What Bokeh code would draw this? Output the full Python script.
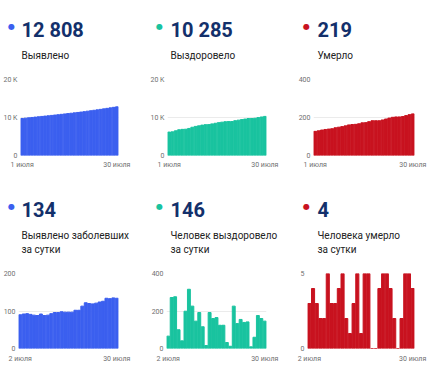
from bokeh.plotting import figure
from bokeh.layouts import column, row
from bokeh.models import Label, FixedTicker, Range1d
from bokeh.embed import file_html
from bokeh.resources import INLINE

# ---------------- data ----------------
days_top = list(range(1, 31))      # 1..30 July
days_bottom = list(range(2, 31))   # 2..30 July

detected_total = [9737, 9827, 9919, 10012, 10103, 10192, 10280, 10372, 10460, 10549,
                  10642, 10738, 10834, 10932, 11029, 11126, 11223, 11325, 11427, 11540,
                  11662, 11782, 11901, 12022, 12146, 12272, 12406, 12539, 12674, 12808]
recovered_total = [6164, 6230, 6502, 6778, 6878, 6919, 7118, 7434, 7660, 7806,
                   7998, 8114, 8130, 8322, 8482, 8647, 8771, 8895, 8927, 8939,
                   9165, 9298, 9453, 9592, 9734, 9743, 9803, 9979, 10139, 10285]
deaths_total = [127, 130, 134, 137, 139, 141, 146, 149, 152, 156,
                161, 163, 164, 167, 172, 173, 178, 183, 183, 183,
                187, 192, 197, 201, 203, 203, 205, 210, 215, 219]

detected_daily = [90, 92, 93, 91, 89, 88, 92, 88, 89, 93,
                  96, 96, 98, 97, 97, 97, 102, 102, 113, 122,
                  120, 119, 121, 124, 126, 134, 133, 135, 134]
recovered_daily = [66, 272, 276, 100, 41, 199, 316, 226, 146, 192,
                   116, 16, 192, 160, 165, 124, 124, 32, 12, 226,
                   133, 155, 139, 142, 9, 60, 176, 160, 146]
deaths_daily = [3, 4, 3, 2, 2, 5, 3, 3, 4, 5,
                2, 1, 3, 5, 1, 5, 5, 0, 0, 4,
                5, 5, 4, 2, 0, 2, 5, 5, 4]

headlines_top = ["12 808", "10 285", "219"]
headlines_bottom = ["134", "146", "4"]
captions_top = [["Выявлено"], ["Выздоровело"], ["Умерло"]]
captions_bottom = [["Выявлено заболевших", "за сутки"],
                   ["Человек выздоровело", "за сутки"],
                   ["Человека умерло", "за сутки"]]

y_ticks = [[0, 10000, 20000], [0, 10000, 20000], [0, 200, 400],
           [0, 100, 200], [0, 200, 400], [0, 5]]
y_tick_labels = [["0", "10 K", "20 K"], ["0", "10 K", "20 K"], ["0", "200", "400"],
                 ["0", "100", "200"], ["0", "200", "400"], ["0", "5"]]
x_ticks_top = [1, 30]
x_labels_top = ["1 июля", "30 июля"]
x_ticks_bottom = [2, 30]
x_labels_bottom = ["2 июля", "30 июля"]

# ---------------- style ----------------
BLUE = "#3B5FEF"
TEAL = "#19C39F"
RED = "#C8121F"
NAVY = "#13306B"
FONT = "Roboto"
W = 146
TOTAL_W = 3 * W
COLORS = [BLUE, TEAL, RED]
DOT_X = [11, 13, 14]
HEAD_X = [21, 24, 25]   # left edge of headline text inside each panel


def make_header(height, headlines, captions):
    h = figure(width=TOTAL_W, height=height, output_backend="svg", toolbar_location=None,
               x_range=Range1d(0, TOTAL_W), y_range=Range1d(0, height),
               x_axis_type=None, y_axis_type=None)
    h.min_border = 0
    h.grid.visible = False
    h.outline_line_color = None

    for k in range(3):
        hx = k * W + HEAD_X[k]
        h.add_layout(Label(x=k * W + DOT_X[k], y=height - 26, x_units="screen",
                           y_units="screen", text="●", text_font="DejaVu Sans",
                           text_font_size="8px", text_color=COLORS[k],
                           text_align="center", text_baseline="middle"))
        h.add_layout(Label(x=hx, y=height - 29, x_units="screen", y_units="screen",
                           text=headlines[k], text_font=FONT, text_font_size="20px",
                           text_font_style="bold", text_color=NAVY,
                           text_align="left", text_baseline="alphabetic"))
        for i, line in enumerate(captions[k]):
            h.add_layout(Label(x=hx, y=height - (55 + 14 * i), x_units="screen",
                               y_units="screen", text=line, text_font=FONT,
                               text_font_size="10px", text_color="#222222",
                               text_align="left", text_baseline="alphabetic"))
    return h


def make_chart(days, values, color, ticks_x, labels_x, yt, ytl,
               height, top, bottom, left, right, xstand):
    p = figure(width=W, height=height, output_backend="svg", toolbar_location=None,
               x_range=Range1d(days[0] - 0.5, days[-1] + 0.5),
               y_range=Range1d(yt[0], yt[-1]))
    p.min_border_top = top
    p.min_border_bottom = bottom
    p.min_border_left = left
    p.min_border_right = right
    p.outline_line_color = None

    p.vbar(x=days, top=values, width=0.84, color=color)

    p.xgrid.visible = False
    p.ygrid.grid_line_color = "#ebebeb"
    p.ygrid.ticker = FixedTicker(ticks=yt)

    for ax in (p.xaxis[0], p.yaxis[0]):
        ax.axis_line_color = None
        ax.major_tick_line_color = None
        ax.minor_tick_line_color = None
        ax.major_tick_out = 0
        ax.major_tick_in = 0
        ax.minor_tick_out = 0
        ax.minor_tick_in = 0
        ax.major_label_text_font = FONT
        ax.major_label_text_font_size = "7px"
        ax.major_label_text_color = "#6f6f6f"

    xa = p.xaxis[0]
    xa.ticker = FixedTicker(ticks=ticks_x)
    xa.major_label_overrides = {t: l for t, l in zip(ticks_x, labels_x)}
    xa.major_label_standoff = xstand

    ya = p.yaxis[0]
    ya.ticker = FixedTicker(ticks=yt)
    ya.major_label_overrides = {t: l for t, l in zip(yt, ytl)}
    ya.major_label_standoff = 3
    return p


head_top = make_header(66, headlines_top, captions_top)
head_bottom = make_header(80, headlines_bottom, captions_bottom)

p1 = make_chart(days_top, detected_total, BLUE, x_ticks_top, x_labels_top,
                y_ticks[0], y_tick_labels[0], 114, 13, 25, 19, 28, 5)
p2 = make_chart(days_top, recovered_total, TEAL, x_ticks_top, x_labels_top,
                y_ticks[1], y_tick_labels[1], 114, 13, 25, 21, 26, 5)
p3 = make_chart(days_top, deaths_total, RED, x_ticks_top, x_labels_top,
                y_ticks[2], y_tick_labels[2], 114, 13, 25, 21, 24, 5)
p4 = make_chart(days_bottom, detected_daily, BLUE, x_ticks_bottom, x_labels_bottom,
                y_ticks[3], y_tick_labels[3], 115, 13, 27, 17, 28, 6)
p5 = make_chart(days_bottom, recovered_daily, TEAL, x_ticks_bottom, x_labels_bottom,
                y_ticks[4], y_tick_labels[4], 115, 13, 27, 20, 26, 6)
p6 = make_chart(days_bottom, deaths_daily, RED, x_ticks_bottom, x_labels_bottom,
                y_ticks[5], y_tick_labels[5], 115, 13, 27, 15, 24, 6)

layout = column(head_top, row(p1, p2, p3, spacing=0),
                head_bottom, row(p4, p5, p6, spacing=0), spacing=0)

open("out.html", "w").write(file_html(layout, INLINE))
